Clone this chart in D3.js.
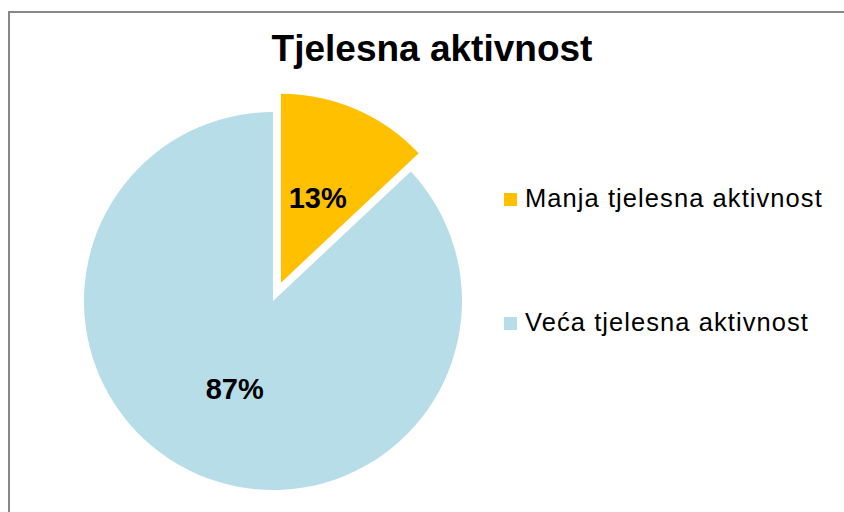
<!DOCTYPE html>
<html><head><meta charset="utf-8">
<script src="https://cdn.jsdelivr.net/npm/d3@7"></script>
<style>body{margin:0;background:#fff}svg{display:block}</style>
</head><body><svg id="c" width="844" height="512"></svg>
<script>
const categories = ["Manja tjelesna aktivnost", "Veća tjelesna aktivnost"];
const values = [13, 87];
const labels = ["13%", "87%"];
const colors = ["#FFC000", "#B7DDE8"];
const title = "Tjelesna aktivnost";

const svg = d3.select("#c");
const W = 844, H = 512;
const font = "Liberation Sans, Arial, sans-serif";
svg.append("rect").attr("x",0).attr("y",0).attr("width",W).attr("height",H).attr("fill","#fff");
svg.append("rect").attr("x",9).attr("y",12).attr("width",W+10).attr("height",H+10)
  .attr("fill","none").attr("stroke","#878787").attr("stroke-width",2);

svg.append("text").attr("x",432).attr("y",61).attr("text-anchor","middle")
  .attr("font-family",font).attr("font-weight","bold")
  .attr("font-size",37).attr("fill","#000").text(title);

const cx = 273, cy = 301, r = 189, explode = 20;
const pie = d3.pie().sort(null).value(d => d)(values);
const arc = d3.arc().innerRadius(0).outerRadius(r);
const g = svg.append("g").attr("transform",`translate(${cx},${cy})`);
const slices = g.selectAll("g.s").data(pie).join("g").attr("class","s")
  .attr("transform",(d,i)=>{
    if(i!==0) return null;
    const a=(d.startAngle+d.endAngle)/2;
    return `translate(${Math.sin(a)*explode},${-Math.cos(a)*explode})`;
  });
slices.append("path").attr("d",arc).attr("fill",(d,i)=>colors[i]);

const labelR = [0.49, 0.51];
slices.append("text")
  .attr("x",(d,i)=>{const a=(d.startAngle+d.endAngle)/2; return Math.sin(a)*r*labelR[i];})
  .attr("y",(d,i)=>{const a=(d.startAngle+d.endAngle)/2; return -Math.cos(a)*r*labelR[i]+10;})
  .attr("text-anchor","middle")
  .attr("font-family",font).attr("font-weight","bold")
  .attr("font-size",29).attr("fill","#000").text((d,i)=>labels[i]);

const leg = svg.append("g");
const ly = d3.scalePoint().domain(categories).range([199.5,323.5]);
categories.forEach((c,i)=>{
  leg.append("rect").attr("x",504).attr("y",ly(c)-6.5).attr("width",13).attr("height",13).attr("fill",colors[i]);
  leg.append("text").attr("x",525).attr("y",ly(c)+7.8)
    .attr("font-family",font).attr("font-size",25.5).attr("letter-spacing",1.07)
    .attr("fill","#000").text(c);
});
</script></body></html>
